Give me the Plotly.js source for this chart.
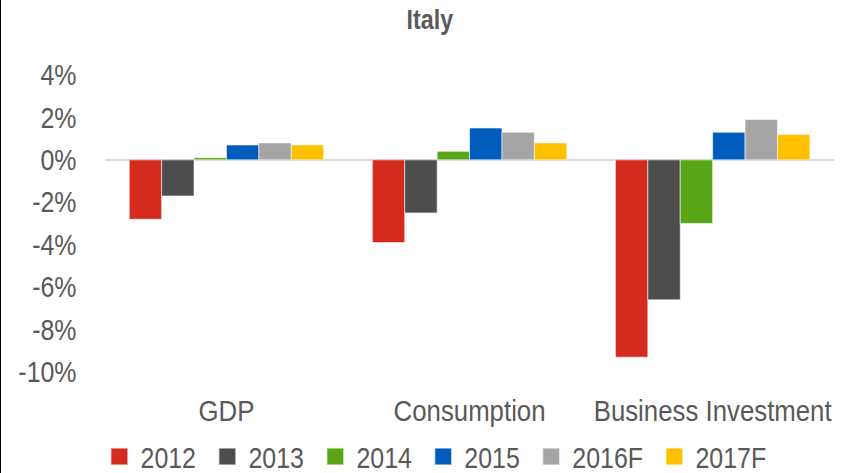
<!DOCTYPE html>
<html>
<head>
<meta charset="utf-8">
<script src="https://cdn.plot.ly/plotly-3.0.1.min.js"></script>
<style>
  body { margin: 0; padding: 0; background: #fff; }
  #frame { position: relative; width: 844px; height: 473px; overflow: hidden; }
  #frame::before { content: ""; position: absolute; left: 0; top: 0; width: 1px; height: 473px; background: #000; z-index: 5; }
  /* the original uses a condensed face, so the whole chart is squeezed sideways */
  #chart { width: 981px; height: 473px; transform: scaleX(0.86); transform-origin: 0 0; }
  /* bigger legend swatches, like the source */
  #chart .legendpoints path { transform: translate(31.4px, 0) scale(1.65, 1.42); }
</style>
</head>
<body>
<div id="frame"><div id="chart"></div></div>
<script>
var categories = ["GDP", "Consumption", "Business Investment"];
var years = ["2012", "2013", "2014", "2015", "2016F", "2017F"];
var colors = ["#D52B1E", "#4D4D4D", "#58A618", "#005CBC", "#A5A5A5", "#FFC000"];

var v2012 = [-2.8, -3.9, -9.3];
var v2013 = [-1.7, -2.5, -6.6];
var v2014 = [0.1, 0.4, -3.0];
var v2015 = [0.7, 1.5, 1.3];
var v2016 = [0.8, 1.3, 1.9];
var v2017 = [0.7, 0.8, 1.2];

var series = [v2012, v2013, v2014, v2015, v2016, v2017];
var tickvals = [-10, -8, -6, -4, -2, 0, 2, 4];
var ticklabels = ["-10%", "-8%", "-6%", "-4%", "-2%", "0%", "2%", "4%"];

var font = "'Liberation Sans', Arial, sans-serif";

var data = [];
for (var i = 0; i < series.length; i++) {
  data.push({
    type: "bar",
    x: categories,
    y: series[i],
    name: years[i],
    marker: {color: colors[i], line: {color: "rgba(255,255,255,0.6)", width: 1}},
    hoverinfo: "none"
  });
}

var layout = {
  width: 981,
  height: 473,
  margin: {l: 122, r: 11, t: 75, b: 101, autoexpand: false},
  paper_bgcolor: "#fff",
  plot_bgcolor: "#fff",
  barmode: "group",
  bargap: 0.2,
  bargroupgap: 0,
  font: {family: font, color: "#595959"},
  title: {
    text: "<b>Italy</b>",
    font: {family: font, size: 27, color: "#595959"},
    x: 0.5095, xref: "container", xanchor: "center",
    y: 0.958, yanchor: "middle"
  },
  xaxis: {
    showgrid: false,
    showline: false,
    zeroline: false,
    ticks: "",
    tickfont: {size: 30, color: "#595959"},
    ticklabelstandoff: 18
  },
  yaxis: {
    range: [-10, 4],
    tickvals: tickvals,
    ticktext: ticklabels,
    showgrid: false,
    showline: false,
    zeroline: true,
    zerolinecolor: "#D9D9D9",
    zerolinewidth: 2,
    ticks: "",
    tickfont: {size: 29, color: "#595959"},
    ticklabelstandoff: 32
  },
  showlegend: true,
  legend: {
    orientation: "h",
    x: -0.0172, xanchor: "left",
    y: -0.199, yanchor: "top",
    font: {size: 29, color: "#595959"},
    itemwidth: 46,
    traceorder: "normal"
  }
};

Plotly.newPlot("chart", data, layout, {displayModeBar: false, staticPlot: true});
</script>
</body>
</html>
